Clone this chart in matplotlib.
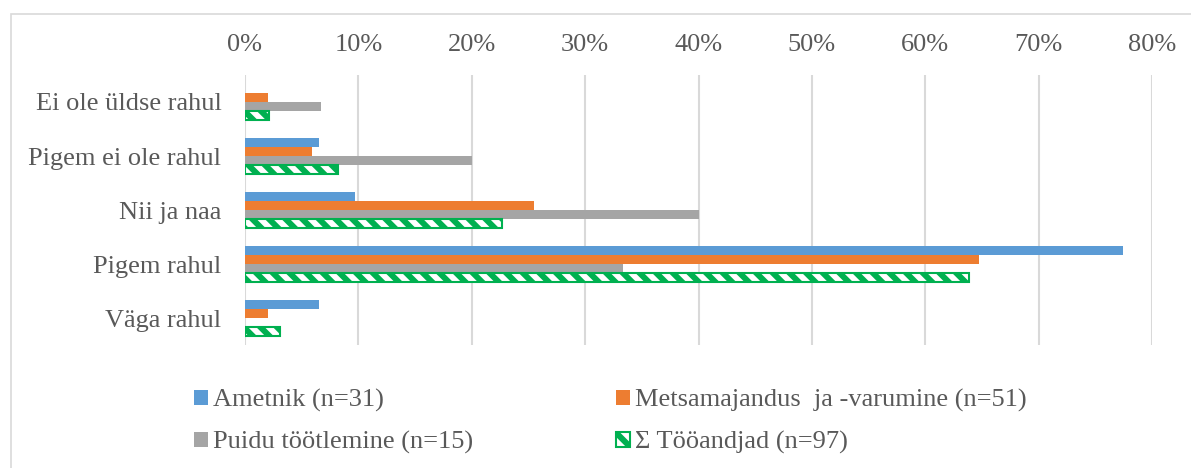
import matplotlib
matplotlib.use("Agg")
import matplotlib.pyplot as plt
from matplotlib.patches import Rectangle, Patch
from matplotlib.ticker import FuncFormatter
import numpy as np

# Survey answers (share of respondents, %)
categories = ["Ei ole üldse rahul", "Pigem ei ole rahul", "Nii ja naa",
              "Pigem rahul", "Väga rahul"]
ametnik = [0.0, 6.5, 9.7, 77.4, 6.5]
metsamajandus = [2.0, 5.9, 25.5, 64.7, 2.0]
puidutootlemine = [6.7, 20.0, 40.0, 33.3, 0.0]
tooandjad = [2.1, 8.2, 22.7, 63.9, 3.1]
series_labels = ["Ametnik (n=31)", "Metsamajandus  ja -varumine (n=51)",
                 "Puidu töötlemine (n=15)", "Σ Tööandjad (n=97)"]
x_ticks = [0, 10, 20, 30, 40, 50, 60, 70, 80]

BLUE = "#5B9BD5"
ORANGE = "#ED7D31"
GREY = "#A5A5A5"
GREEN = "#00B050"
TEXT = "#595959"
GRID = "#D9D9D9"

plt.rcParams["font.family"] = ["Liberation Serif", "DejaVu Serif"]
plt.rcParams["hatch.linewidth"] = 4.3

W, H = 1191, 468
fig = plt.figure(figsize=(W / 100, H / 100), dpi=100)

# outer chart frame
fig.patches.append(Rectangle((10.5 / W, -0.2), 1.2, 1.2 - 13.5 / H,
                             transform=fig.transFigure, fill=False,
                             edgecolor=GRID, linewidth=1.2, zorder=0))

ax = fig.add_axes([245 / W, 1 - 345 / H, (1152 - 245) / W, (345 - 75) / H])

y = np.arange(len(categories))
h = 0.17
offsets = np.array([-1.5, -0.5, 0.5, 1.5]) * h

ax.barh(y + offsets[0], ametnik, height=h, color=BLUE, zorder=3)
ax.barh(y + offsets[1], metsamajandus, height=h, color=ORANGE, zorder=3)
ax.barh(y + offsets[2], puidutootlemine, height=h, color=GREY, zorder=3)
ax.barh(y + offsets[3], tooandjad, height=h, facecolor="white",
        edgecolor=GREEN, hatch="\\\\", linewidth=1.5, zorder=3)

ax.set_ylim(len(categories) - 0.5, -0.5)
ax.set_xlim(0, 80)
ax.set_yticks(y)
ax.set_yticklabels(categories)
ax.set_xticks(x_ticks)
ax.xaxis.set_major_formatter(FuncFormatter(lambda v, p: f"{v:.0f}%"))
ax.xaxis.tick_top()
ax.tick_params(axis="x", length=0, pad=13.5, labelsize=19, labelcolor=TEXT)
ax.tick_params(axis="y", length=0, pad=17, labelsize=19, labelcolor=TEXT)
ax.grid(axis="x", color=GRID, linewidth=1.5, zorder=0)
for s in ax.spines.values():
    s.set_visible(False)

handles = [
    Patch(facecolor=BLUE, edgecolor="none"),
    Patch(facecolor=GREY, edgecolor="none"),
    Patch(facecolor=ORANGE, edgecolor="none"),
    Patch(facecolor="white", edgecolor=GREEN, hatch="\\\\", linewidth=1.5),
]
labels = [series_labels[0], series_labels[2], series_labels[1], series_labels[3]]
fig.legend(handles, labels, loc="upper left",
           bbox_to_anchor=(194 / W, 1 - 389 / H), ncol=2, frameon=False,
           fontsize=19, labelcolor=TEXT, borderpad=0, borderaxespad=0,
           handlelength=0.53, handleheight=0.53, handletextpad=0.2,
           columnspacing=5.4, labelspacing=0.72)

fig.savefig("out.png", dpi=100)
